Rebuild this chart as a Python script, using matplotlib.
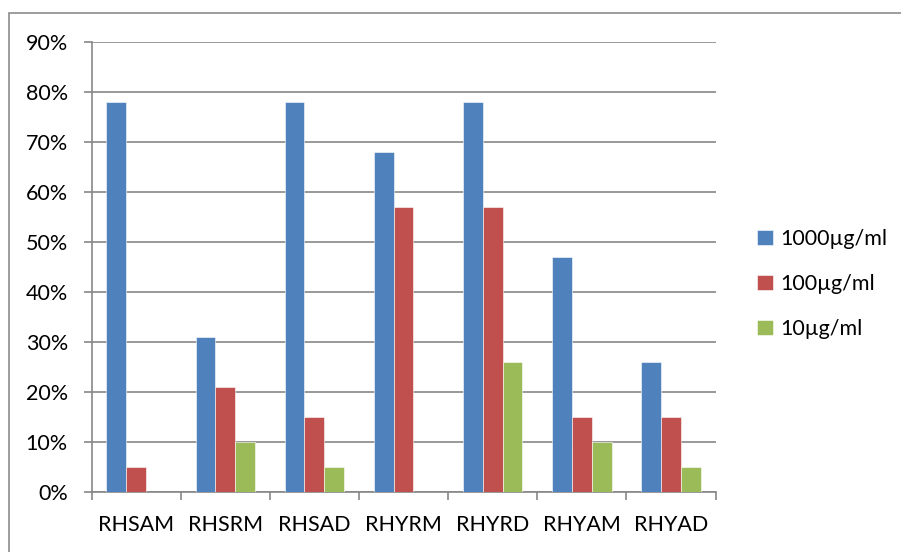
import numpy as np
import matplotlib
matplotlib.use("Agg")
from matplotlib import pyplot as plt
from matplotlib.patches import Rectangle

plt.rcParams['font.family'] = ['Lato', 'DejaVu Sans']

categories = ['RHSAM', 'RHSRM', 'RHSAD', 'RHYRM', 'RHYRD', 'RHYAM', 'RHYAD']
series_names = ['1000µg/ml', '100µg/ml', '10µg/ml']
vals_1000 = [78, 31, 78, 68, 78, 47, 26]
vals_100 = [5, 21, 15, 57, 57, 15, 15]
vals_10 = [0, 10, 5, 0, 26, 10, 5]
y_ticks = [0, 10, 20, 30, 40, 50, 60, 70, 80, 90]

colors = ['#4F81BD', '#C0504D', '#9BBB59']
grid_col = '#878787'

W, H = 901, 552
fig = plt.figure(figsize=(W / 100, H / 100), dpi=100)
ax = fig.add_axes([91.5 / W, 1 - 492.3 / H, 624 / W, 450.6 / H])

# outer chart frame
fig.patches.append(Rectangle((9 / W, -0.1), 1.2, 1.1 - 13 / H, transform=fig.transFigure,
                             fill=False, edgecolor='#8c8c8c', linewidth=1.2))

x = np.arange(len(categories))
bw = 1 / 4.5
for i, vals in enumerate([vals_1000, vals_100, vals_10]):
    ax.bar(x + (i - 1) * bw, vals, width=bw, color=colors[i], label=series_names[i],
           edgecolor='white', linewidth=0.4, zorder=3)

ax.set_xlim(-0.5, len(categories) - 0.5)
ax.set_ylim(0, 90)
ax.set_yticks(y_ticks)
ax.set_yticklabels([f'{v}%' for v in y_ticks])
ax.set_xticks(x)
ax.set_xticklabels(categories)
ax.set_xticks(np.arange(-0.5, len(categories)), minor=True)

ax.yaxis.grid(True, color=grid_col, linewidth=1.2, zorder=0)
ax.set_axisbelow(True)
for s in ['top', 'right']:
    ax.spines[s].set_visible(False)
for s in ['left', 'bottom']:
    ax.spines[s].set_color(grid_col)
    ax.spines[s].set_linewidth(1.2)

fs = 15.5
ax.tick_params(axis='y', length=6, color=grid_col, width=1.2, labelsize=fs, pad=11)
ax.tick_params(axis='x', which='major', length=0, labelsize=fs, pad=16)
ax.tick_params(axis='x', which='minor', length=6, color=grid_col, width=1.2)

ax.legend(loc='center left', bbox_to_anchor=(738 / W, 1 - 284 / H), bbox_transform=fig.transFigure,
          frameon=False, fontsize=fs, handlelength=0.72, handleheight=0.72, handletextpad=0.35,
          labelspacing=1.15)

fig.savefig('out.png', dpi=100)
